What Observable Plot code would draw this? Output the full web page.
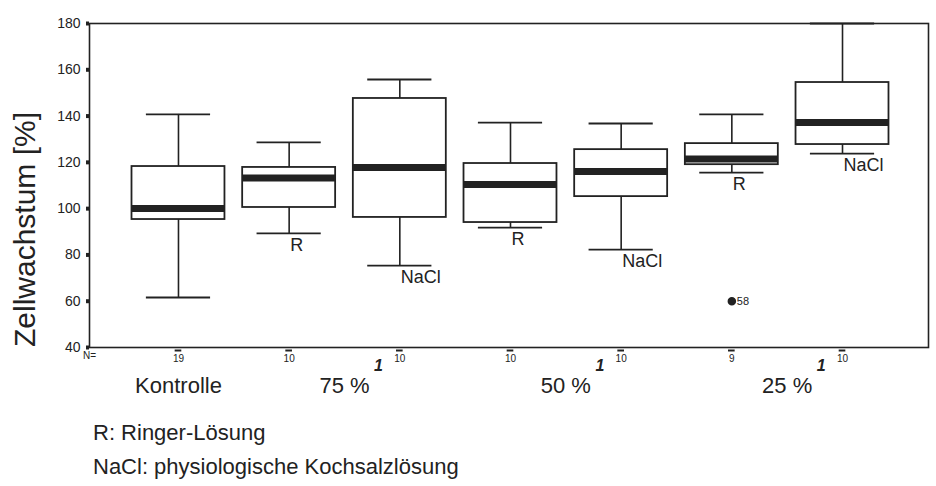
<!DOCTYPE html>
<html><head><meta charset="utf-8">
<script src="https://cdn.jsdelivr.net/npm/d3@7"></script>
<script src="https://cdn.jsdelivr.net/npm/@observablehq/plot@0.6"></script>
<style>
body{margin:0;background:#fff;font-family:"Liberation Sans",Arial,sans-serif;}
#chart{position:relative;width:936px;height:486px;background:#fff;}
#chart svg{display:block;}
.note{position:absolute;left:93px;font-size:22px;line-height:26px;color:#222;white-space:nowrap;}
</style></head><body><div id="chart"></div>
<script>
// ---- data ----
const groups = ["Kontrolle", "75 % R", "75 % NaCl", "50 % R", "50 % NaCl", "25 % R", "25 % NaCl"];
const concentration = ["Kontrolle", "75 %", "75 %", "50 %", "50 %", "25 %", "25 %"];
const solution = ["", "R", "NaCl", "R", "NaCl", "R", "NaCl"];
const lowWhisker = [61.6, 89.3, 75.4, 91.8, 82.3, 115.6, 123.8];
const q1 = [95.3, 100.5, 96.2, 94.0, 105.2, 119.0, 127.7];
const median = [100.1, 113.2, 117.8, 110.4, 116.0, 121.5, 137.2];
const q3 = [118.2, 117.8, 147.6, 119.5, 125.5, 128.1, 154.5];
const highWhisker = [140.7, 128.6, 155.8, 137.2, 136.8, 140.7, 180.0];
const nValues = [19, 10, 10, 10, 10, 9, 10];
const outlierGroup = ["25 % R"];
const outlierValue = [60];
const outlierCase = ["58"];
const yTicks = [40, 60, 80, 100, 120, 140, 160, 180];
const footnotes = ["R: Ringer-Lösung", "NaCl: physiologische Kochsalzlösung"];

// ---- derived tables ----
const rows = groups.map((g, i) => ({
  group: g, pos: i + 1, conc: concentration[i], sol: solution[i],
  lo: lowWhisker[i], q1: q1[i], med: median[i], q3: q3[i], hi: highWhisker[i], n: nValues[i]
}));
const concRows = Array.from(d3.group(rows, d => d.conc), ([conc, rs]) => ({conc, pos: d3.mean(rs, d => d.pos)}));
const outliers = outlierGroup.map((g, i) => ({pos: groups.indexOf(g) + 1, value: outlierValue[i], label: outlierCase[i]}));

const boxHalf = 0.42, capHalf = 0.29;
const ink = "#222";

const plot = Plot.plot({
  width: 936, height: 400,
  marginLeft: 89, marginRight: 8, marginTop: 23, marginBottom: 53,
  x: {type: "linear", domain: [0.196, 7.777], axis: null},
  y: {domain: [40, 180], axis: null},
  style: {fontFamily: "Liberation Sans, Arial, sans-serif", color: ink, background: "white"},
  marks: [
    Plot.frame({stroke: ink, strokeWidth: 1.6}),
    Plot.axisY({ticks: yTicks, tickSize: 3, strokeWidth: 4, tickPadding: 6, fontSize: 14, label: null, tickFormat: d => d, stroke: ink}),
    Plot.text(["Zellwachstum [%]"], {frameAnchor: "left", textAnchor: "middle", rotate: -90, dx: -64, dy: 44, fontSize: 30, fill: ink}),
    // whiskers
    Plot.ruleX(rows, {x: "pos", y1: "q3", y2: "hi", stroke: ink, strokeWidth: 1.6}),
    Plot.ruleX(rows, {x: "pos", y1: "lo", y2: "q1", stroke: ink, strokeWidth: 1.6}),
    Plot.ruleY(rows, {y: "hi", x1: d => d.pos - capHalf, x2: d => d.pos + capHalf, stroke: ink, strokeWidth: 1.8}),
    Plot.ruleY(rows, {y: "lo", x1: d => d.pos - capHalf, x2: d => d.pos + capHalf, stroke: ink, strokeWidth: 1.8}),
    // boxes
    Plot.rect(rows, {x1: d => d.pos - boxHalf, x2: d => d.pos + boxHalf, y1: "q1", y2: "q3", fill: "white", stroke: ink, strokeWidth: 1.8}),
    Plot.ruleY(rows, {y: "med", x1: d => d.pos - boxHalf, x2: d => d.pos + boxHalf, stroke: ink, strokeWidth: 7}),
    // solution labels
    Plot.text(rows.filter(d => d.sol), {x: "pos", y: "lo", text: "sol", textAnchor: "start", dx: 1, dy: 12, fontSize: 18, fill: ink}),
    // outlier
    Plot.dot(outliers, {x: "pos", y: "value", r: 3.5, fill: ink, stroke: ink}),
    Plot.text(outliers, {x: "pos", y: "value", text: "label", textAnchor: "start", dx: 5, fontSize: 11, fill: ink}),
    // N row
    Plot.ruleY(rows, {y: () => 40, x1: d => d.pos - 0.03, x2: d => d.pos + 0.03, dy: 3, stroke: ink, strokeWidth: 2}),
    Plot.text(rows, {x: "pos", y: () => 40, text: d => String(d.n), dy: 11, fontSize: 10, fill: ink}),
    Plot.text(["N="], {frameAnchor: "bottom-left", textAnchor: "middle", dy: 11, fontSize: 10, fill: ink}),
    // concentration labels
    Plot.text(concRows, {x: "pos", y: () => 40, text: "conc", dy: 38, fontSize: 22, fill: ink}),
    Plot.text(concRows.filter(d => d.conc !== "Kontrolle"), {x: "pos", y: () => 40, text: () => "1", dx: 34, dy: 18, fontSize: 16, fontWeight: "bold", fontStyle: "italic", fill: ink})
  ]
});
const chart = document.getElementById("chart");
chart.appendChild(plot);
footnotes.forEach((t, i) => {
  const div = document.createElement("div");
  div.className = "note";
  div.style.top = (420 + i * 34) + "px";
  div.textContent = t;
  chart.appendChild(div);
});
</script>
</body></html>
